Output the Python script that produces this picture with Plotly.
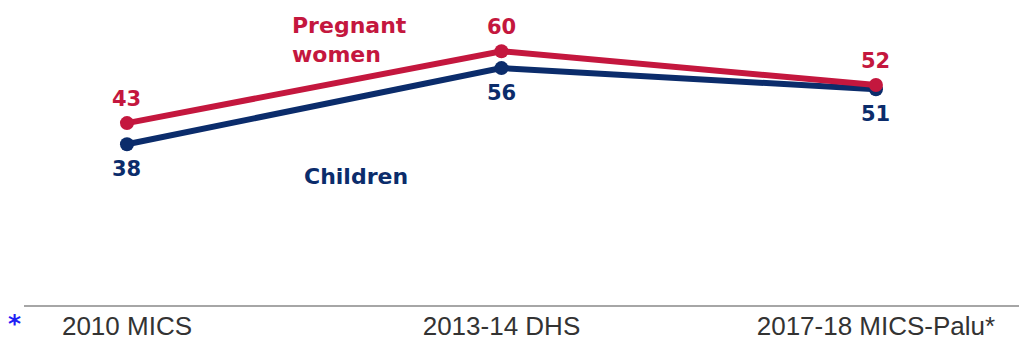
import plotly.graph_objects as go

# Survey rounds and prevalence values (%)
surveys = ["2010 MICS", "2013-14 DHS", "2017-18 MICS-Palu*"]
pregnant_women = [43, 60, 52]
children = [38, 56, 51]

RED = "#C4173E"
NAVY = "#0B2C6B"
LABEL_FONT = "DejaVu Sans"

x_pos = list(range(len(surveys)))

fig = go.Figure()

fig.add_trace(go.Scatter(
    x=x_pos, y=children, mode="lines+markers",
    line=dict(color=NAVY, width=6),
    marker=dict(color=NAVY, size=14),
    hoverinfo="skip", showlegend=False,
))
fig.add_trace(go.Scatter(
    x=x_pos, y=pregnant_women, mode="lines+markers",
    line=dict(color=RED, width=6),
    marker=dict(color=RED, size=14),
    hoverinfo="skip", showlegend=False,
))

annotations = []
# Value labels: pregnant women above the line, children below it
for xi, v in zip(x_pos, pregnant_women):
    annotations.append(dict(
        x=xi, y=v, text=str(v), showarrow=False, yshift=24,
        font=dict(family=LABEL_FONT, size=21, color=RED, weight="bold"),
    ))
for xi, v in zip(x_pos, children):
    annotations.append(dict(
        x=xi, y=v, text=str(v), showarrow=False, yshift=-25,
        font=dict(family=LABEL_FONT, size=21, color=NAVY, weight="bold"),
    ))

# Series names placed next to the lines
annotations.append(dict(
    xref="paper", yref="paper", x=(290 - 24) / 995, y=1 - 11 / 306,
    xanchor="left", yanchor="top", align="left", showarrow=False,
    text="Pregnant<br>women",
    font=dict(family=LABEL_FONT, size=22, color=RED, weight="bold"),
))
annotations.append(dict(
    xref="paper", yref="paper", x=(302 - 24) / 995, y=1 - 177 / 306,
    xanchor="left", yanchor="middle", showarrow=False,
    text="Children",
    font=dict(family=LABEL_FONT, size=22, color=NAVY, weight="bold"),
))

# Footnote marker, kept inside the bottom edge of the page
annotations.append(dict(
    xref="paper", yref="paper", x=(7 - 24) / 995, y=-(340 - 306) / 306,
    xanchor="left", yanchor="bottom", showarrow=False,
    text="*", borderpad=0,
    font=dict(family="DejaVu Sans", size=25, color="#1F1FF5", weight="bold"),
))

fig.update_layout(
    width=1019, height=341,
    margin=dict(l=24, r=0, t=0, b=36),
    paper_bgcolor="white", plot_bgcolor="white",
    annotations=annotations,
    xaxis=dict(
        range=[-0.275, 2.382],
        tickmode="array", tickvals=x_pos, ticktext=surveys,
        showgrid=False, zeroline=False,
        showline=True, linecolor="#A6A6A6", linewidth=2,
        ticks="", ticklabelstandoff=-3, automargin=False,
        tickfont=dict(family="Liberation Sans", size=26, color="#333333"),
        fixedrange=True,
    ),
    yaxis=dict(
        range=[0, 72.1], visible=False, fixedrange=True,
    ),
)

fig.write_html("out.html")
